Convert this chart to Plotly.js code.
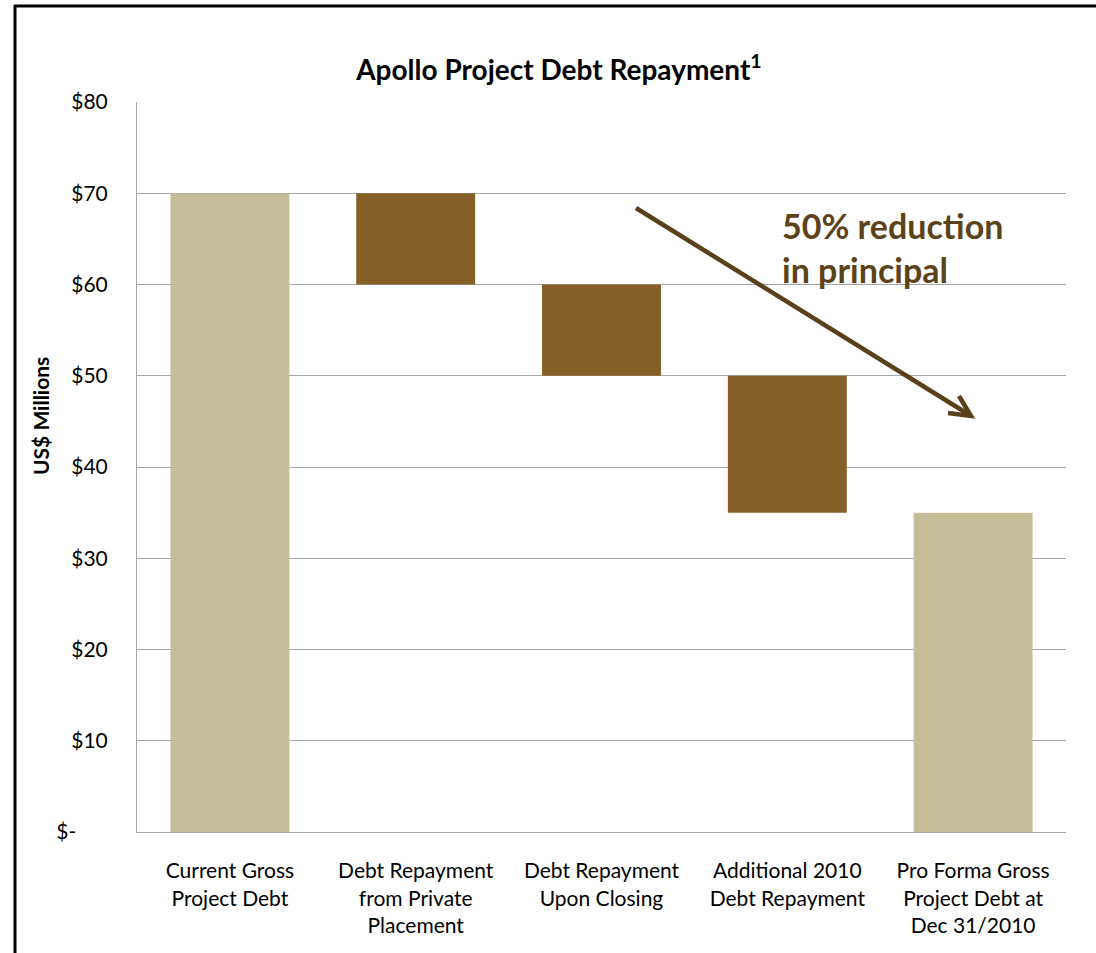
<!DOCTYPE html>
<html>
<head>
<meta charset="utf-8">
<script src="https://cdn.plot.ly/plotly-3.0.1.min.js"></script>
<style>html,body{margin:0;padding:0;background:#fff;}#chart{width:1096px;height:953px;}</style>
</head>
<body>
<div id="chart"></div>
<script>
// ---- data ----
var categories = [
  "Current Gross<br>Project Debt",
  "Debt Repayment<br>from Private<br>Placement",
  "Debt Repayment<br>Upon Closing",
  "Additional 2010<br>Debt Repayment",
  "Pro Forma Gross<br>Project Debt at<br>Dec 31/2010"
];
var measures = ["absolute", "relative", "relative", "relative", "total"];
var values = [70, -10, -10, -15, 0];
var yTickVals = [0, 10, 20, 30, 40, 50, 60, 70, 80];
var yTickText = ["$-\u2003\u2003", "$10", "$20", "$30", "$40", "$50", "$60", "$70", "$80"];
var chartTitle = "Apollo Project Debt Repayment<sup>1</sup>";
var yTitle = "US$ Millions";
var calloutText = "50% reduction<br>in principal";

// ---- layout helpers (pixel -> paper) ----
var L = 137, R = 1066, T = 102, B = 832;
function px(x) { return (x - L) / (R - L); }
function py(y) { return (B - y) / (B - T); }

var tan = "#C4BD97", brown = "#865F26", arrowCol = "#59401A";

var tip = [971, 416], start = [636, 208];
var trace = {
  type: "waterfall",
  x: categories,
  measure: measures,
  y: values,
  textinfo: "none",
  hoverinfo: "skip",
  connector: { visible: false },
  increasing: { marker: { color: brown } },
  decreasing: { marker: { color: brown } },
  totals: { marker: { color: tan } }
};

var layout = {
  width: 1096, height: 953,
  margin: { l: L, r: 1096 - R, t: T, b: 953 - B },
  paper_bgcolor: "#fff", plot_bgcolor: "#fff",
  showlegend: false,
  waterfallgap: 0.36,
  font: { family: "Lato, 'Open Sans', sans-serif", color: "#000" },
  title: {
    text: chartTitle,
    font: { family: "Lato", size: 28, color: "#000", weight: "bold" },
    x: 0.51, xanchor: "center", xref: "container",
    y: 1 - 70 / 953, yanchor: "middle", yref: "container"
  },
  xaxis: {
    type: "category",
    showgrid: false,
    showline: true, linecolor: "#A6A6A6", linewidth: 1,
    ticks: "", ticklabelstandoff: 20,
    tickfont: { family: "Lato", size: 21, color: "#000" },
    fixedrange: true
  },
  yaxis: {
    range: [0, 80],
    tickvals: yTickVals, ticktext: yTickText,
    showgrid: true, gridcolor: "#A6A6A6", gridwidth: 1,
    showline: true, linecolor: "#A6A6A6", linewidth: 1,
    zeroline: false,
    ticks: "", ticklabelstandoff: 24,
    tickfont: { family: "Lato", size: 21, color: "#000" },
    fixedrange: true
  },
  shapes: [
    // outer frame (left and top)
    { type: "line", xref: "paper", yref: "paper", x0: px(15), x1: px(15), y0: py(5), y1: py(953), line: { color: "#000", width: 3 } },
    { type: "line", xref: "paper", yref: "paper", x0: px(14), x1: px(1096), y0: py(6), y1: py(6), line: { color: "#000", width: 3 } },
    // arrow shaft
    { type: "line", xref: "paper", yref: "paper", x0: px(start[0]), y0: py(start[1]), x1: px(tip[0] - 3), y1: py(tip[1] - 2), line: { color: arrowCol, width: 4.5 } },
    // arrow head (open chevron)
    { type: "path", xref: "paper", yref: "paper",
      path: "M " + px(948) + " " + py(413) + " L " + px(tip[0]) + " " + py(tip[1]) + " L " + px(959) + " " + py(396),
      line: { color: arrowCol, width: 4.5 } }
  ],
  annotations: [
    { xref: "paper", yref: "paper", x: px(40), y: py(416), xanchor: "center", yanchor: "middle",
      text: "<b>" + yTitle + "</b>", textangle: -90, showarrow: false,
      font: { family: "Lato", size: 21, color: "#000" } },
    { xref: "paper", yref: "paper", x: px(780), y: py(203), xanchor: "left", yanchor: "top", align: "left",
      text: "<b>" + calloutText + "</b>", showarrow: false,
      font: { family: "Lato", size: 34, color: "#5C4219" } }
  ]
};

Plotly.newPlot("chart", [trace], layout, { displayModeBar: false, staticPlot: true });
</script>
</body>
</html>
